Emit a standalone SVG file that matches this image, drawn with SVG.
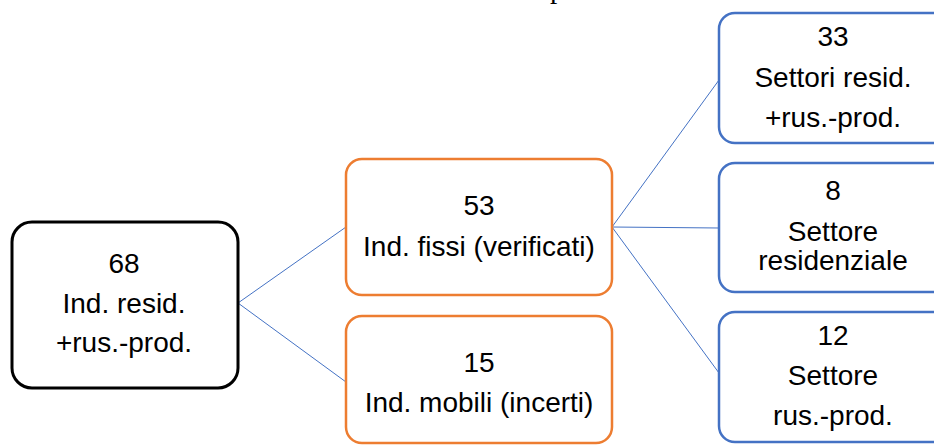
<svg xmlns="http://www.w3.org/2000/svg" width="934" height="445" viewBox="0 0 934 445">
<style>
  text { font-family: "Liberation Sans", Arial, sans-serif; font-size: 28px; fill: #000; text-anchor: middle; }
  .box { fill: #fff; }
  .root { stroke: #000; stroke-width: 3; }
  .mid { stroke: #ED7D31; stroke-width: 2.5; }
  .leaf { stroke: #4472C4; stroke-width: 2.5; }
  .conn line { stroke: #4472C4; stroke-width: 1; }
</style>
<rect width="934" height="445" fill="#fff"/>
<text x="550" y="-2" style="font-family:'Liberation Serif',serif;font-size:29px;text-anchor:start">p</text>
<g id="connectors" class="conn">
  <line x1="238" y1="303" x2="346" y2="227"/>
  <line x1="238" y1="303" x2="346" y2="382"/>
  <line x1="612" y1="227" x2="719" y2="80"/>
  <line x1="612" y1="227" x2="719" y2="228"/>
  <line x1="612" y1="227" x2="719" y2="373"/>
</g>
<g id="n68">
  <rect class="box root" x="12" y="222" width="226" height="166" rx="20"/>
  <text x="124" y="273">68</text>
  <text x="124" y="313">Ind. resid.</text>
  <text x="124" y="352">+rus.-prod.</text>
</g>
<g id="n53">
  <rect class="box mid" x="346" y="159" width="266" height="136" rx="16"/>
  <text x="479" y="215">53</text>
  <text x="479" y="256">Ind. fissi (verificati)</text>
</g>
<g id="n15">
  <rect class="box mid" x="346" y="316" width="266" height="127" rx="16"/>
  <text x="479" y="372">15</text>
  <text x="479" y="412">Ind. mobili (incerti)</text>
</g>
<g id="n33">
  <rect class="box leaf" x="719" y="13" width="240" height="130" rx="16"/>
  <text x="833" y="46">33</text>
  <text x="833" y="87">Settori resid.</text>
  <text x="833" y="127">+rus.-prod.</text>
</g>
<g id="n8">
  <rect class="box leaf" x="719" y="163" width="240" height="129" rx="16"/>
  <text x="833" y="200">8</text>
  <text x="833" y="241">Settore</text>
  <text x="833" y="270">residenziale</text>
</g>
<g id="n12">
  <rect class="box leaf" x="719" y="312" width="240" height="130" rx="16"/>
  <text x="833" y="345">12</text>
  <text x="833" y="385">Settore</text>
  <text x="833" y="425">rus.-prod.</text>
</g>
</svg>
